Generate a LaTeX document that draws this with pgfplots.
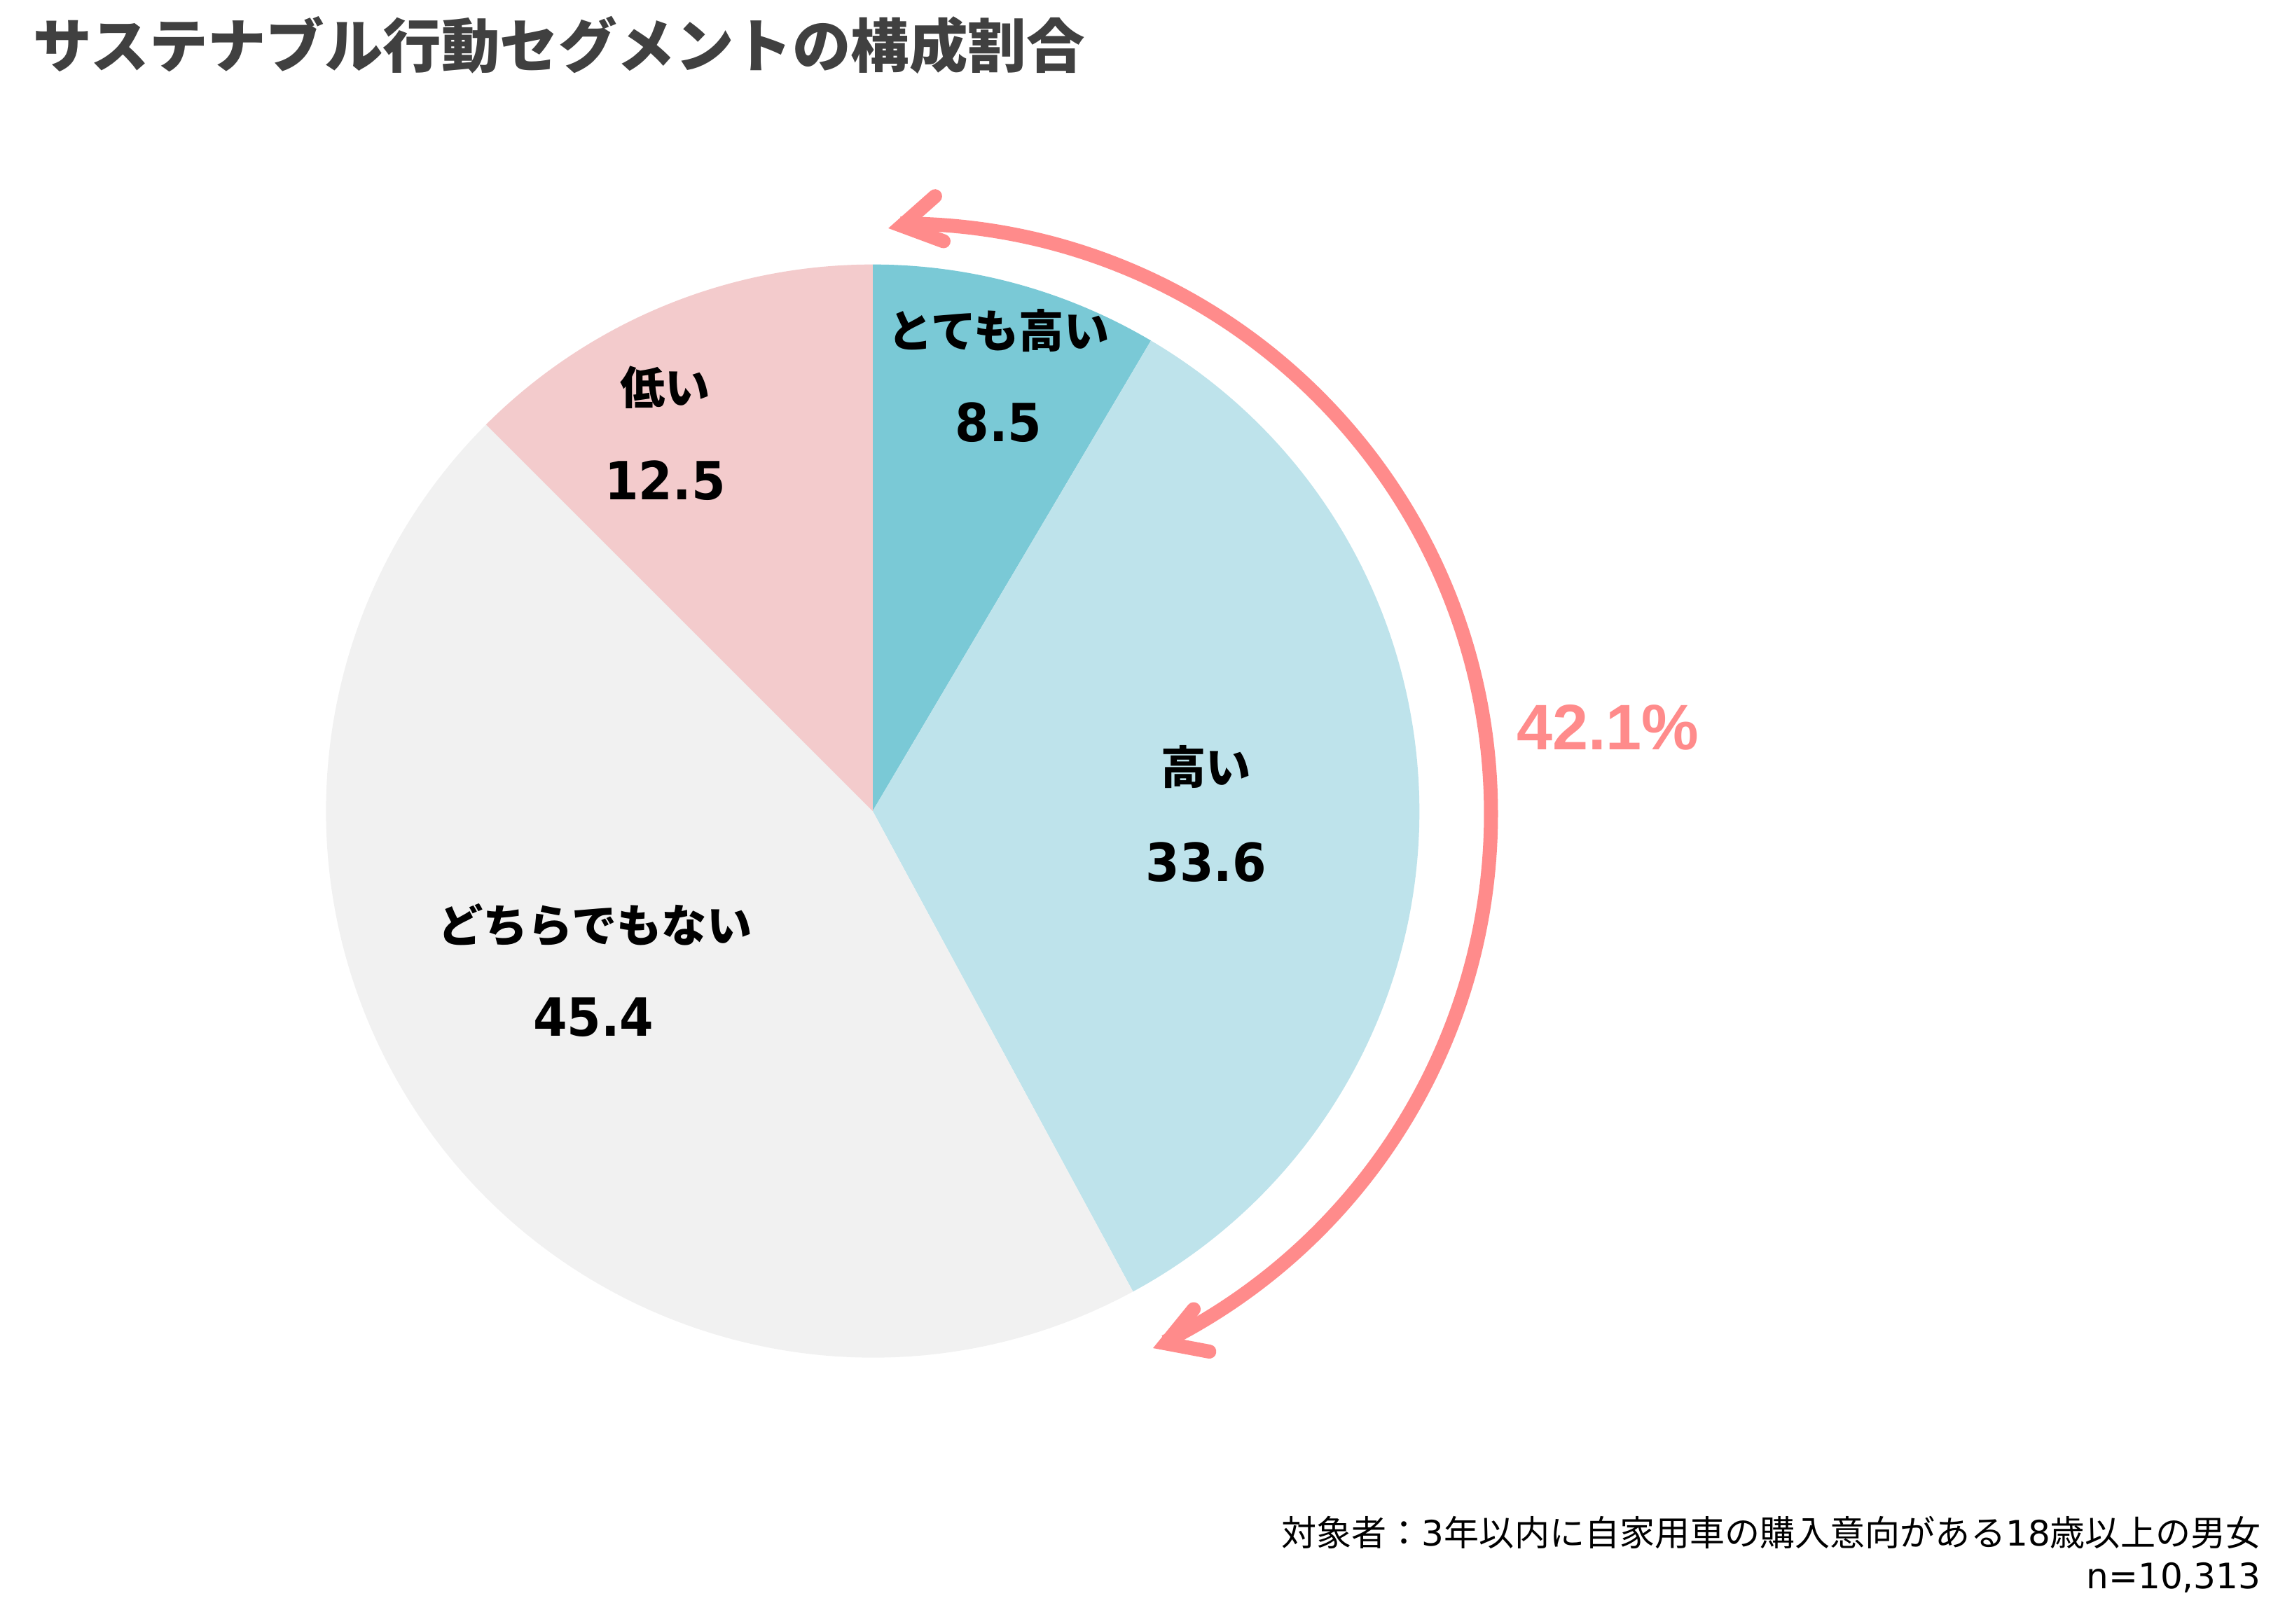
\documentclass[border=0pt]{standalone}
\usepackage{pgfplots}
\pgfplotsset{compat=1.18}
\usepackage{pgfplotstable}
\usepackage{fontspec}
\setmainfont{Noto Sans CJK JP}
\newfontfamily\cjk{Noto Sans CJK JP}
\newfontfamily\numfont{DejaVu Sans}[FakeStretch=0.93]
\newfontfamily\dejavu{DejaVu Sans}
\newfontfamily\arialfont{Liberation Sans}

\definecolor{cA}{HTML}{7AC9D6}
\definecolor{cB}{HTML}{BEE3EB}
\definecolor{cC}{HTML}{F1F1F1}
\definecolor{cD}{HTML}{F3CBCC}
\definecolor{arrowpink}{HTML}{FF8B8B}
\definecolor{titlegray}{HTML}{404040}

% segment shares (%), clockwise from 12 o'clock
\pgfplotstableread{
x y value cls
597 556 8.5 a
597 556 33.6 b
597 556 45.4 c
597 556 12.5 d
}\pietable
\pgfplotstablecreatecol[expr accum={\pgfmathaccuma + \thisrow{value}}{0}]{cum}\pietable

\pgfdeclareplotmark{wedge}{%
  \pgfpathmoveto{\pgfpointorigin}%
  \pgfpathlineto{\pgfpointpolar{\sa}{187pt}}%
  \pgfpatharc{\sa}{\ea}{187pt}%
  \pgfpathclose
  \pgfusepathqfill
}

\begin{document}
\begin{tikzpicture}
\begin{axis}[
  scale only axis, width=784pt, height=555.5pt,
  xmin=0, xmax=1568, ymin=0, ymax=1111,
  hide axis, clip=false,
]
\path (axis cs:0,0) rectangle (axis cs:1568,1111);

\addplot[scatter, only marks, mark=wedge, point meta=explicit symbolic,
  scatter/classes={a={cA}, b={cB}, c={cC}, d={cD}},
  visualization depends on={90-3.6*(\thisrow{cum}-\thisrow{value}) \as \sa},
  visualization depends on={90-3.6*\thisrow{cum} \as \ea},
] table[x=x, y=y, meta=cls] {\pietable};

% anchor points for slice labels
\coordinate (L1) at (axis cs:683,885);
\coordinate (V1) at (axis cs:683,822);
\coordinate (L2) at (axis cs:825,586);
\coordinate (V2) at (axis cs:825,521);
\coordinate (L3) at (axis cs:407,478);
\coordinate (V3) at (axis cs:406,415);
\coordinate (L4) at (axis cs:455,846);
\coordinate (V4) at (axis cs:455,782);

% bracket arrow
\draw[arrowpink, line width=4.8pt] (axis cs:616,958) arc[start angle=90, end angle=-63.4, radius=202pt];
\draw[arrowpink, line width=4.8pt, line cap=round, line join=miter]
  (axis cs:639.7,976.7) -- (axis cs:616.9,956.5) -- (axis cs:645.5,945.9);
\draw[arrowpink, line width=4.8pt, line cap=round, line join=miter]
  (axis cs:816.6,215.1) -- (axis cs:797.6,191.7) -- (axis cs:827.3,186.1);
\node[anchor=center, inner sep=0pt, text=arrowpink, font=\arialfont\bfseries\fontsize{22}{26}\selectfont]
  at (axis cs:1100,613) {42.1\%};

% title
\node[anchor=west, inner sep=0pt, text=titlegray, font=\cjk\bfseries\fontsize{20}{24}\selectfont]
  at (axis cs:22.5,1080) {サステナブル行動セグメントの構成割合};

% footnote
\node[anchor=base east, inner sep=0pt, font=\cjk\fontsize{12}{14}\selectfont]
  at (axis cs:1547,53) {対象者：{\dejavu 3}年以内に自家用車の購入意向がある{\dejavu 18}歳以上の男女};
\node[anchor=base east, inner sep=0pt, font=\dejavu\fontsize{12}{14}\selectfont]
  at (axis cs:1547,24) {n=10,313};
\end{axis}

% slice labels (drawn on top of the wedges)
\tikzset{lab/.style={anchor=center, inner sep=0pt, font=\cjk\bfseries\fontsize{15.4}{18}\selectfont},
         val/.style={anchor=center, inner sep=0pt, font=\numfont\bfseries\fontsize{18}{22}\selectfont}}
\node[lab] at (L1) {とても高い};
\node[val] at (V1) {8.5};
\node[lab] at (L4) {低い};
\node[val] at (V4) {12.5};
\node[lab] at (L2) {高い};
\node[val] at (V2) {33.6};
\node[lab] at (L3) {どちらでもない};
\node[val] at (V3) {45.4};
\end{tikzpicture}
\end{document}
